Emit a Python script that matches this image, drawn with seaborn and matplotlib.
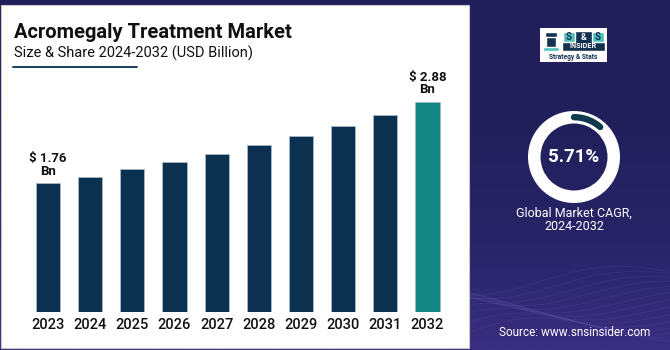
import numpy as np
import pandas as pd
import matplotlib
matplotlib.use("Agg")
import matplotlib.pyplot as plt
import seaborn as sns
from matplotlib.patches import Rectangle, Wedge

# data
years = ["2023", "2024", "2025", "2026", "2027", "2028", "2029", "2030", "2031", "2032"]
market_size = [1.76, 1.85, 1.96, 2.06, 2.17, 2.29, 2.41, 2.55, 2.70, 2.88]
labelled_years = {"2023": "$ 1.76\nBn", "2032": "$ 2.88\nBn"}
cagr = 5.71

title = "Acromegaly Treatment Market"
subtitle = "Size & Share 2024-2032 (USD Billion)"
cagr_caption = "Global Market CAGR,\n2024-2032"
source = "Source: www.snsinsider.com"

NAVY_BG = "#211f5a"
BAR = "#0c3150"
HIGHLIGHT = "#128681"

sns.set_theme(style="white")
plt.rcParams["font.family"] = ["Roboto", "DejaVu Sans"]

W, H = 670, 350
fig = plt.figure(figsize=(W / 100, H / 100), dpi=100)


def px_rect(x0, y0, x1, y1):
    # pixel box (top-left origin) -> figure fraction rect
    return [x0 / W, 1 - y1 / H, (x1 - x0) / W, (y1 - y0) / H]


# background gradient
bg = fig.add_axes([0, 0, 1, 1])
bg.set_axis_off()
grad = np.linspace(0, 1, 256).reshape(-1, 1)
cmap = matplotlib.colors.LinearSegmentedColormap.from_list(
    "bg", [NAVY_BG, NAVY_BG, "#262466", "#3a2e80"])
bg.imshow(grad, aspect="auto", cmap=cmap, extent=[0, 1, 0, 1], origin="upper")
xs = np.linspace(0.70, 1.0, 200)
for i in range(14):
    ys = 0.05 + 0.012 * i + 0.05 * np.sin((xs - 0.7) * 14 + i * 0.35) * (1 - (xs - 0.7) * 1.5)
    bg.plot(xs, ys, color="#8a7fd8", alpha=0.12, lw=0.6)
bg.set_xlim(0, 1)
bg.set_ylim(0, 1)

# white panel
bg.add_patch(Rectangle((1 / W, 1 - 348 / H), 468 / W, 343 / H,
                       facecolor="white", edgecolor="#c8c8c8", lw=0.8, zorder=3))

# titles
fig.text(14 / W, 1 - 37.5 / H, title, fontsize=14.5, fontweight="bold",
         color="#111111", va="baseline", ha="left")
fig.text(14 / W, 1 - 58 / H, subtitle, fontsize=10.5, color="#111111",
         va="baseline", ha="left")
bg.plot([13 / W, 137 / W], [1 - 67 / H, 1 - 67 / H], color="#1d3d5c", lw=1.4, zorder=4)

# bar chart
ax = fig.add_axes(px_rect(26.9, 80, 448.6, 312))
df = pd.DataFrame({"Year": years, "Size": market_size})
colors = [BAR] * (len(years) - 1) + [HIGHLIGHT]
sns.barplot(data=df, x="Year", y="Size", hue="Year", palette=colors, legend=False,
            saturation=1, width=0.57, edgecolor="#a9b8c6", linewidth=0.6, ax=ax)
ax.set_facecolor("none")
ax.set_ylim(0, 3.177)
ax.set_xlim(-0.5, len(years) - 0.5)
for s in ax.spines.values():
    s.set_visible(False)
ax.set_yticks([])
ax.set_xlabel("")
ax.set_ylabel("")
ax.tick_params(axis="x", length=0, pad=4, labelsize=10.5, labelcolor="#111111")
for lbl in ax.get_xticklabels():
    lbl.set_fontweight("medium")
for i, (yr, v) in enumerate(zip(years, market_size)):
    if yr in labelled_years:
        ax.annotate(labelled_years[yr], (i, v), xytext=(0, 4), textcoords="offset points",
                    ha="center", va="bottom", fontsize=9.5, fontweight="bold",
                    color="#111111", linespacing=0.95)

# logo
lg = fig.add_axes(px_rect(540, 28, 607, 62))
lg.set_xlim(0, 67)
lg.set_ylim(34, 0)
lg.set_axis_off()
lg.add_patch(Rectangle((0, 0), 67, 34, facecolor="white"))
lg.add_patch(Rectangle((22, 3), 43, 20, facecolor="#12324f"))
for cx, ch in [(29, "S"), (43.5, "&"), (58, "S")]:
    if ch == "S":
        lg.add_patch(Rectangle((cx - 6, 4), 12, 10, facecolor="#4fc1bd"))
        lg.text(cx, 9.3, ch, ha="center", va="center", fontsize=7, fontweight="bold", color="#12324f")
    else:
        lg.text(cx, 9.3, ch, ha="center", va="center", fontsize=6.5, fontweight="bold", color="white")
lg.text(43.5, 18.5, "INSIDER", ha="center", va="center", fontsize=5.2, fontweight="bold", color="white")
lg.text(33.5, 29, "Strategy & Stats", ha="center", va="center", fontsize=4.8,
        fontweight="bold", color="#12324f")
lg.add_patch(Rectangle((6, 8), 10, 14, facecolor="#12324f"))
lg.add_patch(Rectangle((5, 4), 12, 5, facecolor="#12324f"))
lg.add_patch(Rectangle((3, 19), 16, 4, facecolor="#4fc1bd"))

# donut
dn = fig.add_axes(px_rect(574 - 55, 157 - 55, 574 + 55, 157 + 55))
dn.set_xlim(-55, 55)
dn.set_ylim(-55, 55)
dn.set_aspect("equal")
dn.set_axis_off()
dn.add_patch(Wedge((0, 0), 46, 0, 360, width=12.5, facecolor="white", edgecolor="none"))
span = 2 * cagr * 3.6
theta = np.radians(np.linspace(90 - span, 90, 60))
dn.plot(39.8 * np.cos(theta), 39.8 * np.sin(theta), color="#0e3a4c", lw=4.6,
        solid_capstyle="round")
dn.text(0, 0, f"{cagr:.2f}%", ha="center", va="center", fontsize=13.5,
        fontweight="bold", color="white")

fig.text(574 / W, 1 - 220 / H, cagr_caption, ha="center", va="center", fontsize=9,
         color="white", linespacing=1.0)
fig.text(575 / W, 1 - 333 / H, source, ha="center", va="center", fontsize=8.5, color="white")

fig.savefig("out.png", dpi=100)
